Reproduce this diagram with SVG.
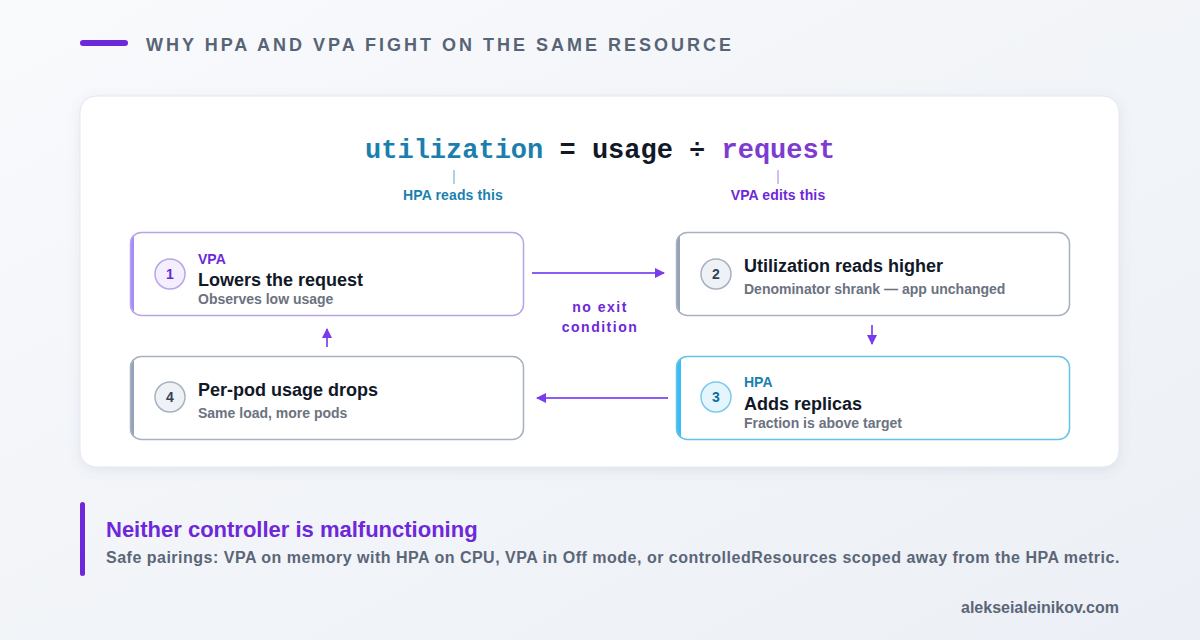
<svg xmlns="http://www.w3.org/2000/svg" width="1200" height="640" viewBox="0 0 1200 640">
<defs>
<linearGradient id="bg" x1="0" y1="0" x2="1" y2="1">
<stop offset="0" stop-color="#f8fafc"/>
<stop offset="1" stop-color="#eceff5"/>
</linearGradient>
<filter id="shadow" x="-5%" y="-10%" width="110%" height="125%">
<feDropShadow dx="0" dy="3" stdDeviation="6" flood-color="#64748b" flood-opacity="0.12"/>
</filter>
<clipPath id="c1"><rect x="130" y="232" width="394" height="84" rx="11"/></clipPath>
<clipPath id="c2"><rect x="676" y="232" width="394" height="84" rx="11"/></clipPath>
<clipPath id="c3"><rect x="676" y="356" width="394" height="84" rx="11"/></clipPath>
<clipPath id="c4"><rect x="130" y="356" width="394" height="84" rx="11"/></clipPath>
<marker id="ah" viewBox="0 0 10 10" refX="9" refY="5" markerWidth="10" markerHeight="10" markerUnits="userSpaceOnUse" orient="auto">
<path d="M0,0 L10,5 L0,10 Z" fill="#7c3aed"/>
</marker>
</defs>
<style>
.sans{font-family:"Liberation Sans",Arial,sans-serif;font-weight:bold}
.mono{font-family:"Liberation Mono","DejaVu Sans Mono",monospace;font-weight:bold}
.title{font-size:18px;fill:#586476;letter-spacing:3px}
.tag{font-size:14px}
.head{font-size:18px;fill:#111827}
.sub{font-size:14px;fill:#6b7280}
.num{font-size:14px;text-anchor:middle}
.conn{stroke:#8b5cf6;stroke-width:2;fill:none}
</style>
<rect width="1200" height="640" fill="url(#bg)"/>

<g id="title">
<rect x="80" y="40" width="48" height="6" rx="3" fill="#6d28d9"/>
<text class="sans title" x="146" y="51">WHY HPA AND VPA FIGHT ON THE SAME RESOURCE</text>
</g>

<rect x="80" y="96" width="1039" height="371" rx="16" fill="#ffffff" stroke="#e2e8f0" filter="url(#shadow)"/>

<g id="formula">
<text class="mono" x="600" y="158" font-size="27" text-anchor="middle"><tspan fill="#1b7fae">utilization</tspan><tspan fill="#111827"> = usage ÷ </tspan><tspan fill="#7e3bd0">request</tspan></text>
<line x1="454" y1="170" x2="454" y2="184" stroke="#8fc4dc" stroke-width="1.5"/>
<line x1="778" y1="170" x2="778" y2="184" stroke="#c4a9ec" stroke-width="1.5"/>
<text class="sans tag" x="453" y="200" text-anchor="middle" fill="#1b7fb0" letter-spacing="0.15">HPA reads this</text>
<text class="sans tag" x="778" y="200" text-anchor="middle" fill="#6d28d9" letter-spacing="0.15">VPA edits this</text>
</g>

<g id="connectors">
<line class="conn" x1="532" y1="273" x2="664" y2="273" marker-end="url(#ah)"/>
<line class="conn" x1="872" y1="325" x2="872" y2="344" marker-end="url(#ah)"/>
<line class="conn" x1="668" y1="398" x2="537" y2="398" marker-end="url(#ah)"/>
<line class="conn" x1="327" y1="347" x2="327" y2="329" marker-end="url(#ah)"/>
<text class="sans" font-size="14" fill="#6d28d9" text-anchor="middle" letter-spacing="1.5"><tspan x="600" y="312">no exit</tspan><tspan x="600" y="332">condition</tspan></text>
</g>

<g id="node1">
<rect x="130" y="232" width="394" height="84" rx="11" fill="#ffffff"/>
<rect x="130" y="232" width="4" height="84" fill="#a78bfa" clip-path="url(#c1)"/>
<rect x="130.5" y="232.5" width="393" height="83" rx="11" fill="none" stroke="#b9a5e6" stroke-width="1.5"/>
<circle cx="170" cy="274" r="15" fill="#f4effe" stroke="#b9a5e6" stroke-width="1.5"/>
<text class="sans num" x="170" y="279" fill="#6d28d9">1</text>
<text class="sans tag" x="198" y="264" fill="#6d28d9">VPA</text>
<text class="sans head" x="198" y="286">Lowers the request</text>
<text class="sans sub" x="198" y="304">Observes low usage</text>
</g>

<g id="node2">
<rect x="676" y="232" width="394" height="84" rx="11" fill="#ffffff"/>
<rect x="676" y="232" width="4" height="84" fill="#94a3b8" clip-path="url(#c2)"/>
<rect x="676.5" y="232.5" width="393" height="83" rx="11" fill="none" stroke="#a7b1bf" stroke-width="1.5"/>
<circle cx="716" cy="274" r="15" fill="#eef2f7" stroke="#a7b1bf" stroke-width="1.5"/>
<text class="sans num" x="716" y="279" fill="#374151">2</text>
<text class="sans head" x="744" y="272">Utilization reads higher</text>
<text class="sans sub" x="744" y="294">Denominator shrank — app unchanged</text>
</g>

<g id="node3">
<rect x="676" y="356" width="394" height="84" rx="11" fill="#ffffff"/>
<rect x="676" y="356" width="5" height="84" fill="#38bdf8" clip-path="url(#c3)"/>
<rect x="676.5" y="356.5" width="393" height="83" rx="11" fill="none" stroke="#67c3e6" stroke-width="1.5"/>
<circle cx="716" cy="397" r="15" fill="#e4f5fd" stroke="#7ccaeb" stroke-width="1.5"/>
<text class="sans num" x="716" y="402" fill="#0e6f9e">3</text>
<text class="sans tag" x="744" y="387" fill="#1b7fae">HPA</text>
<text class="sans head" x="744" y="410">Adds replicas</text>
<text class="sans sub" x="744" y="428">Fraction is above target</text>
</g>

<g id="node4">
<rect x="130" y="356" width="394" height="84" rx="11" fill="#ffffff"/>
<rect x="130" y="356" width="4" height="84" fill="#94a3b8" clip-path="url(#c4)"/>
<rect x="130.5" y="356.5" width="393" height="83" rx="11" fill="none" stroke="#a7b1bf" stroke-width="1.5"/>
<circle cx="170" cy="397" r="15" fill="#eef2f7" stroke="#a7b1bf" stroke-width="1.5"/>
<text class="sans num" x="170" y="402" fill="#374151">4</text>
<text class="sans head" x="198" y="396">Per-pod usage drops</text>
<text class="sans sub" x="198" y="418">Same load, more pods</text>
</g>

<g id="callout">
<rect x="80" y="502" width="5" height="74" rx="2.5" fill="#6d28d9"/>
<text class="sans" x="106" y="537" font-size="22" fill="#6d28d9">Neither controller is malfunctioning</text>
<text class="sans" x="106" y="563" font-size="16" fill="#5a6678" letter-spacing="0.5">Safe pairings: VPA on memory with HPA on CPU, VPA in Off mode, or controlledResources scoped away from the HPA metric.</text>
</g>

<g id="footer">
<text class="sans" x="1119" y="613" font-size="16" fill="#5a6678" text-anchor="end">alekseialeinikov.com</text>
</g>
</svg>
